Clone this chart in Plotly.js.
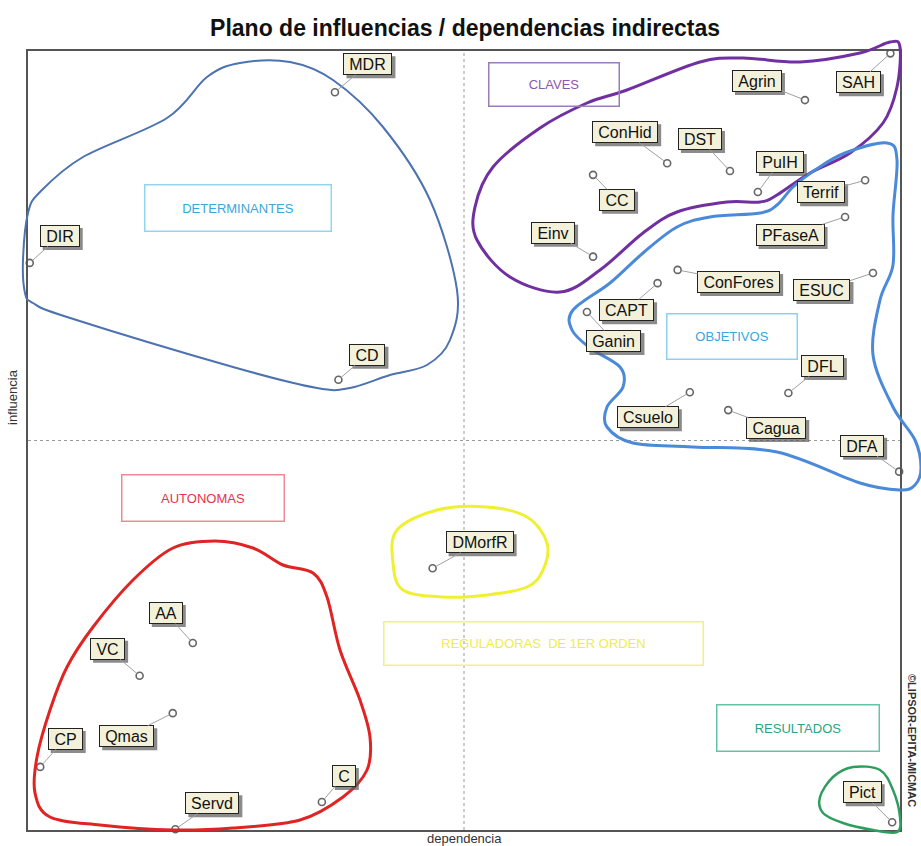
<!DOCTYPE html>
<html>
<head>
<meta charset="utf-8">
<script src="https://cdn.plot.ly/plotly-3.0.1.min.js"></script>
<style>
  body { margin: 0; background: #fff; }
  #plano { width: 921px; height: 846px; }
</style>
</head>
<body>
<div id="plano"></div>
<script>
// variables MICMAC: nombre, dependencia (x), influencia (y)
var variables = ['MDR', 'DIR', 'CD', 'Agrin', 'SAH', 'ConHid', 'DST', 'PuIH', 'CC', 'Terrif',
  'Einv', 'PFaseA', 'ConFores', 'ESUC', 'CAPT', 'Ganin', 'DFL', 'Csuelo', 'Cagua', 'DFA',
  'DMorfR', 'AA', 'VC', 'Qmas', 'CP', 'Servd', 'C', 'Pict'];
var dependencia = [35.2, 0.2, 35.6, 89.1, 98.9, 73.3, 80.5, 83.7, 64.8, 96.0,
  64.8, 93.7, 74.5, 96.9, 72.2, 64.1, 87.2, 75.9, 80.3, 99.9,
  46.4, 18.9, 12.8, 16.6, 1.4, 16.9, 33.7, 99.1];
var influencia = [94.7, 72.8, 57.8, 93.7, 99.7, 85.6, 84.6, 81.9, 84.1, 83.4,
  73.6, 78.7, 71.9, 71.5, 70.2, 66.5, 56.1, 56.2, 53.9, 46.0,
  33.6, 24.0, 19.8, 15.0, 8.1, 0.1, 3.6, 1.0];

// desplazamiento de cada etiqueta respecto a su punto (px)
var offX = [33, 30, 29, -48, -32, -42, -30, 22, 24, -44, -40, -55, 61, -51, -31, 27, 34, -42, 48, -37, 47, -27, -32, -46, 25, 37, 22, -30];
var offY = [-28, -27, -25, -19, 29, -31, -32, -30, 25, 12, -24, 18, 12, 17, 27, 29, -27, 25, 18, -26, -26, -30, -27, 23, -28, -26, -26, -30];

// zonas del plano
var zonas = ['DETERMINANTES', 'CLAVES', 'OBJETIVOS', 'AUTONOMAS', 'REGULADORAS  DE 1ER ORDEN', 'RESULTADOS'];
var zonaColor = ['#3ba6da', '#8a5aaa', '#3ba6da', '#e4334a', '#eeee44', '#2aa584'];
var zonaBorde = ['#93d4ef', '#9a7cbc', '#8fd0ee', '#ee8a94', '#f2f27a', '#66c3a6'];
var zonaCaja = [[143, 183, 332, 232], [487, 62, 620, 108], [665, 312, 798, 360],
  [120, 473, 285, 522], [382, 620, 704, 666], [715, 703, 880, 752]];

// contornos dibujados a mano (px de la imagen)
var contornos = [
  {color: '#4c72b0', w: 2, pts: [[28,213],[40,192],[83,157],[167,118],[207,77],[240,63],[290,62],[333,80],[383,127],[430,200],[457,290],[450,340],[427,365],[390,375],[350,388],[317,388],[233,367],[67,317],[33,303],[25,293],[23,260]]},
  {color: '#7030a0', w: 3, pts: [[560,292],[510,277],[477,240],[475,207],[493,167],[540,128],[587,103],[627,90],[700,62],[743,58],[800,62],[860,53],[890,42],[900,47],[897,87],[883,123],[850,153],[810,173],[777,195],[760,202],[727,202],[677,212],[643,233],[600,270]]},
  {color: '#4a8ad8', w: 3, pts: [[887,143],[897,160],[893,215],[893,265],[880,300],[873,355],[893,407],[915,440],[921,468],[915,485],[900,490],[860,483],[777,452],[693,447],[633,443],[607,427],[607,407],[623,387],[620,367],[590,348],[572,330],[573,310],[610,283],[643,253],[677,227],[710,217],[760,213],[777,205],[793,187],[815,170],[845,153]]},
  {color: '#e02424', w: 3, pts: [[173,548],[215,541],[253,548],[283,565],[313,573],[327,597],[340,650],[360,700],[370,737],[367,770],[343,797],[300,820],[233,828],[173,830],[100,825],[50,817],[35,793],[37,757],[50,710],[67,667],[93,627],[133,580]]},
  {color: '#f0f032', w: 3, pts: [[397,530],[437,510],[487,507],[527,517],[547,543],[543,570],[527,587],[487,595],[443,597],[403,590],[393,563]]},
  {color: '#2e9e5e', w: 2.5, pts: [[820,797],[833,777],[853,767],[880,770],[893,790],[900,817],[897,832],[873,830],[843,823],[823,813]]}
];

var L = 28, R = 900, T = 51, B = 830;
var FAM = 'Liberation Sans, Arial, sans-serif';
function px(x) { return (x - L) / (R - L); }
function py(y) { return (B - y) / (B - T); }

function closedPath(pts) {
  var n = pts.length, d = '';
  var p = pts.map(function (q) { return [px(q[0]), py(q[1])]; });
  d = 'M' + p[0][0] + ',' + p[0][1];
  for (var i = 0; i < n; i++) {
    var p0 = p[(i - 1 + n) % n], p1 = p[i], p2 = p[(i + 1) % n], p3 = p[(i + 2) % n];
    var c1x = p1[0] + (p2[0] - p0[0]) / 6, c1y = p1[1] + (p2[1] - p0[1]) / 6;
    var c2x = p2[0] - (p3[0] - p1[0]) / 6, c2y = p2[1] - (p3[1] - p1[1]) / 6;
    d += ' C' + c1x + ',' + c1y + ' ' + c2x + ',' + c2y + ' ' + p2[0] + ',' + p2[1];
  }
  return d + ' Z';
}

// ancho del texto de cada etiqueta
var ctx = document.createElement('canvas').getContext('2d');
ctx.font = '16px "Liberation Sans"';
function ancho(t) { return Math.ceil(ctx.measureText(t).width) + 8; }
var ALTO = 18;

var shapes = [
  {type: 'line', xref: 'x', yref: 'paper', x0: 50, x1: 50, y0: 0, y1: 1, line: {color: '#9a9a9a', width: 1, dash: 'dot'}},
  {type: 'line', xref: 'paper', yref: 'y', x0: 0, x1: 1, y0: 50, y1: 50, line: {color: '#9a9a9a', width: 1, dash: 'dot'}}
];
contornos.forEach(function (c) {
  shapes.push({type: 'path', xref: 'paper', yref: 'paper', path: closedPath(c.pts),
    line: {color: c.color, width: c.w}, layer: 'above'});
});

var annotations = [];
for (var i = 0; i < variables.length; i++) {
  var w = ancho(variables[i]);
  var hw = (w + 4) / 2, hh = (ALTO + 4) / 2;
  // sombra de la etiqueta
  shapes.push({type: 'rect', xref: 'x', yref: 'y', xsizemode: 'pixel', ysizemode: 'pixel',
    xanchor: dependencia[i], yanchor: influencia[i],
    x0: offX[i] - hw + 3, x1: offX[i] + hw + 3, y0: -offY[i] - hh - 3, y1: -offY[i] + hh - 3,
    fillcolor: 'rgba(90,90,90,0.7)', line: {width: 0}, layer: 'above'});
  annotations.push({x: dependencia[i], y: influencia[i], xref: 'x', yref: 'y', text: variables[i],
    showarrow: true, arrowhead: 0, arrowwidth: 1, arrowcolor: '#a0a0a0', standoff: 4,
    ax: offX[i], ay: offY[i], width: w, height: ALTO,
    font: {family: FAM, size: 16, color: '#111'}, bgcolor: '#f3f1da', bordercolor: '#222',
    borderwidth: 1, borderpad: 1});
}
for (var j = 0; j < zonas.length; j++) {
  var b = zonaCaja[j];
  annotations.push({xref: 'paper', yref: 'paper', x: px((b[0] + b[2]) / 2), y: py((b[1] + b[3]) / 2),
    xanchor: 'center', yanchor: 'middle', showarrow: false, text: zonas[j],
    width: b[2] - b[0] - 4, height: b[3] - b[1] - 4,
    font: {family: FAM, size: 13, color: zonaColor[j]},
    bordercolor: zonaBorde[j], borderwidth: 1.5, borderpad: 0, bgcolor: 'rgba(255,255,255,0)'});
}
annotations.push({xref: 'paper', yref: 'paper', x: px(12), y: py(397), text: 'influencia', textangle: -90,
  showarrow: false, xanchor: 'center', yanchor: 'middle',
  font: {family: FAM, size: 13, color: '#333'}});
annotations.push({xref: 'paper', yref: 'paper', x: px(465), y: py(838), text: 'dependencia',
  showarrow: false, xanchor: 'center', yanchor: 'middle',
  font: {family: FAM, size: 13, color: '#333'}});
annotations.push({xref: 'paper', yref: 'paper', x: px(912), y: py(740), text: '©LIPSOR-EPITA-MICMAC', textangle: 90,
  showarrow: false, xanchor: 'center', yanchor: 'middle',
  font: {family: FAM, size: 11, color: '#333', weight: 'bold'}});

var puntos = {
  x: dependencia, y: influencia, text: variables, type: 'scatter', mode: 'markers',
  cliponaxis: false, hoverinfo: 'text',
  marker: {symbol: 'circle-open', size: 7, color: '#666', line: {width: 1.6, color: '#666'}}
};

var layout = {
  width: 921, height: 846,
  margin: {l: L, r: 921 - R, t: T, b: 846 - B},
  paper_bgcolor: '#fff', plot_bgcolor: '#fff',
  title: {text: '<b>Plano de influencias / dependencias indirectas</b>', x: 0.505, xanchor: 'center', y: 0.976,
    font: {family: FAM, size: 23, color: '#111'}},
  xaxis: {range: [0, 100], showgrid: false, zeroline: false, showticklabels: false, ticks: '',
    showline: true, mirror: true, linecolor: '#555', linewidth: 2},
  yaxis: {range: [0, 100], showgrid: false, zeroline: false, showticklabels: false, ticks: '',
    showline: true, mirror: true, linecolor: '#555', linewidth: 2},
  showlegend: false,
  shapes: shapes,
  annotations: annotations
};

Plotly.newPlot('plano', [puntos], layout, {displayModeBar: false, staticPlot: true});
</script>
</body>
</html>
